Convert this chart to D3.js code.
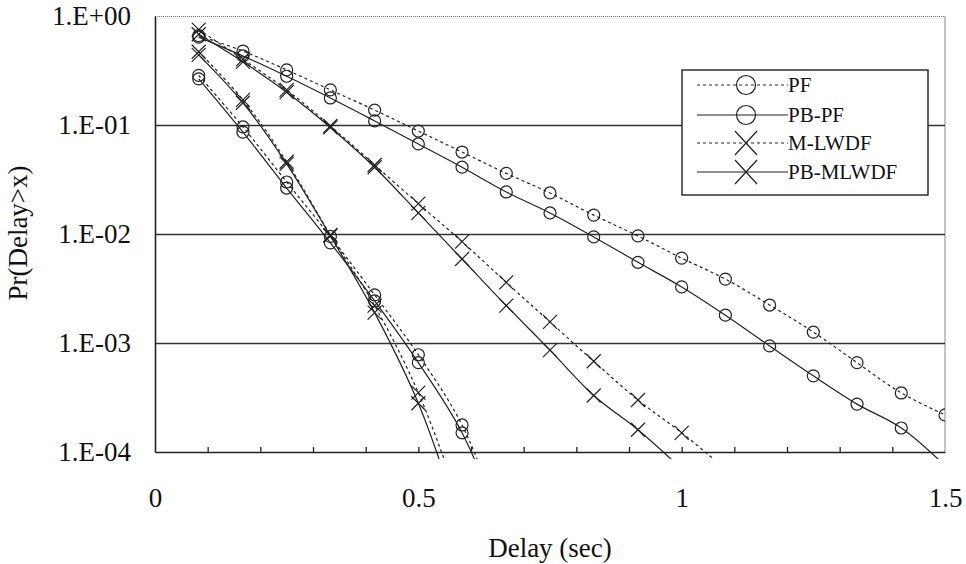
<!DOCTYPE html>
<html>
<head>
<meta charset="utf-8">
<script src="https://cdn.jsdelivr.net/npm/d3@7"></script>
<style>
  body { margin: 0; background: #fff; }
  svg { display: block; font-family: "Liberation Serif", "Times New Roman", serif; }
</style>
</head>
<body>
<div id="chart"></div>
<script>
// delay sample points (sec)
const delays = [0.083, 0.167, 0.25, 0.333, 0.417, 0.5, 0.583, 0.667, 0.75, 0.833, 0.917, 1.0, 1.083, 1.167, 1.25, 1.333, 1.417, 1.5];

// first load case (slower decay)
const pf1 = [0.66, 0.477, 0.32, 0.21, 0.137, 0.088, 0.0565, 0.036, 0.0238, 0.0149, 0.0096, 0.006, 0.00386, 0.00223, 0.00126, 0.00066, 0.000348, 0.000219];
const pbpf1 = [0.64, 0.43, 0.28, 0.177, 0.109, 0.067, 0.041, 0.0243, 0.0156, 0.0094, 0.0055, 0.00327, 0.0018, 0.00094, 0.0005, 0.000275, 0.000166, 0.000075];
const mlwdf1 = [0.75, 0.40, 0.21, 0.098, 0.043, 0.019, 0.0085, 0.0036, 0.00156, 0.00068, 0.0003, 0.00015, 0.00007];
const pbmlwdf1 = [0.68, 0.38, 0.20, 0.095, 0.041, 0.0156, 0.0059, 0.0022, 0.00086, 0.00033, 0.00016, 0.00007];

// second load case (steep decay)
const pf2 = [0.285, 0.096, 0.030, 0.0095, 0.00276, 0.00078, 0.000177, 0.000017];
const pbpf2 = [0.265, 0.086, 0.0264, 0.0083, 0.00243, 0.00066, 0.00015, 0.000016];
const mlwdf2 = [0.47, 0.17, 0.046, 0.0098, 0.0022, 0.00035, 0.00003];
const pbmlwdf2 = [0.44, 0.16, 0.044, 0.0096, 0.0019, 0.00028, 0.00002];

const yTicks = [1, 0.1, 0.01, 0.001, 0.0001];
const yTickLabels = ["1.E+00", "1.E-01", "1.E-02", "1.E-03", "1.E-04"];
const xLabelTicks = [0, 0.5, 1, 1.5];
const xLabels = ["0", "0.5", "1", "1.5"];
const xMinorTicks = [0.1, 0.2, 0.3, 0.4, 0.5, 0.6, 0.7, 0.8, 0.9, 1.0, 1.1, 1.2, 1.3, 1.4];

const legendItems = [
  { label: "PF", dashed: true, marker: "circle" },
  { label: "PB-PF", dashed: false, marker: "circle" },
  { label: "M-LWDF", dashed: true, marker: "cross" },
  { label: "PB-MLWDF", dashed: false, marker: "cross" },
];

const series = [
  { values: pf1, dashed: true, marker: "circle" },
  { values: pbpf1, dashed: false, marker: "circle" },
  { values: mlwdf1, dashed: true, marker: "cross" },
  { values: pbmlwdf1, dashed: false, marker: "cross" },
  { values: pf2, dashed: true, marker: "circle" },
  { values: pbpf2, dashed: false, marker: "circle" },
  { values: mlwdf2, dashed: true, marker: "cross" },
  { values: pbmlwdf2, dashed: false, marker: "cross" },
];

const width = 966, height = 564;
const margin = { top: 16, right: 21, bottom: 112, left: 155 };
const innerW = width - margin.left - margin.right;
const innerH = height - margin.top - margin.bottom;
const ink = "#222";

const svg = d3.select("#chart").append("svg").attr("width", width).attr("height", height);
const g = svg.append("g").attr("transform", `translate(${margin.left},${margin.top})`);

const x = d3.scaleLinear().domain([0, 1.5]).range([0, innerW]);
const y = d3.scaleLog().domain([0.0001, 1]).range([innerH, 0]);

// frame: top dotted, right thin grey
g.append("line").attr("x1", 0).attr("x2", innerW).attr("y1", 0.5).attr("y2", 0.5)
  .attr("stroke", "#777").attr("stroke-width", 1).attr("stroke-dasharray", "1,1");
g.append("line").attr("x1", innerW).attr("x2", innerW).attr("y1", 0).attr("y2", innerH)
  .attr("stroke", "#888").attr("stroke-width", 1);

// horizontal grid at decades
g.append("g")
  .call(d3.axisLeft(y).tickValues(yTicks.slice(1, 4)).tickSize(-innerW).tickFormat(() => ""))
  .call((s) => s.select(".domain").remove())
  .selectAll("line").attr("stroke", "#333").attr("stroke-width", 1.4);

// y labels
g.append("g")
  .call(d3.axisLeft(y).tickValues(yTicks).tickSize(0).tickPadding(24).tickFormat((d, i) => yTickLabels[i]))
  .call((s) => s.select(".domain").attr("stroke", ink).attr("stroke-width", 1.6))
  .selectAll("text").attr("font-size", 27).attr("font-family", "Liberation Serif, serif").attr("fill", "#111");

// x axis with inside minor ticks
g.append("g").attr("transform", `translate(0,${innerH})`)
  .call(d3.axisBottom(x).tickValues(xMinorTicks).tickSizeInner(-5).tickSizeOuter(0).tickFormat(() => ""))
  .call((s) => s.select(".domain").attr("stroke", ink).attr("stroke-width", 1.6))
  .selectAll("line").attr("stroke", ink).attr("stroke-width", 1.3);

g.append("g").attr("transform", `translate(0,${innerH})`)
  .call(d3.axisBottom(x).tickValues(xLabelTicks).tickSize(0).tickPadding(36).tickFormat((d, i) => xLabels[i]))
  .call((s) => s.select(".domain").remove())
  .selectAll("text").attr("font-size", 27).attr("font-family", "Liberation Serif, serif").attr("fill", "#111");

// axis titles
svg.append("text").attr("x", margin.left + innerW / 2).attr("y", 557).attr("text-anchor", "middle")
  .attr("font-size", 27).attr("fill", "#111").text("Delay (sec)");
svg.append("text").attr("transform", "translate(27,233) rotate(-90)").attr("text-anchor", "middle")
  .attr("font-size", 27).attr("fill", "#111").text("Pr(Delay>x)");

// clip lets curves run a few px past the bottom axis, like the original
svg.append("clipPath").attr("id", "plot-clip").append("rect")
  .attr("x", 0).attr("y", 0).attr("width", innerW).attr("height", innerH + 7);

const line = d3.line()
  .x((d) => x(d.x))
  .y((d) => y(d.v))
  .curve(d3.curveCatmullRom.alpha(0.5));

const drawMarker = (sel, type, cx, cy, r, h) => {
  if (type === "circle") {
    sel.append("circle").attr("cx", cx).attr("cy", cy).attr("r", r)
      .attr("fill", "none").attr("stroke", ink).attr("stroke-width", 1.2);
  } else {
    sel.append("path")
      .attr("d", `M${cx - r},${cy - h}L${cx + r},${cy + h}M${cx - r},${cy + h}L${cx + r},${cy - h}`)
      .attr("fill", "none").attr("stroke", ink).attr("stroke-width", 1.2);
  }
};

const plot = g.append("g").attr("clip-path", "url(#plot-clip)");
series.forEach((s) => {
  const pts = s.values.map((v, i) => ({ x: delays[i], v }));
  plot.append("path").attr("d", line(pts))
    .attr("fill", "none").attr("stroke", ink).attr("stroke-width", 1.2)
    .attr("stroke-dasharray", s.dashed ? "3,3" : null);
  const mk = plot.append("g");
  pts.filter((p) => p.v >= 0.0001).forEach((p) => {
    drawMarker(mk, s.marker, x(p.x), y(p.v), s.marker === "circle" ? 6 : 7, 7);
  });
});

// legend
const legend = svg.append("g").attr("transform", "translate(682,70)");
legend.append("rect").attr("width", 246).attr("height", 125)
  .attr("fill", "#fff").attr("stroke", ink).attr("stroke-width", 1.4);
const rowY = [15, 45, 73, 102];
legendItems.forEach((item, i) => {
  const row = legend.append("g").attr("transform", `translate(0,${rowY[i]})`);
  row.append("line").attr("x1", 15).attr("x2", 106).attr("y1", 0).attr("y2", 0)
    .attr("stroke", ink).attr("stroke-width", 1.2).attr("stroke-dasharray", item.dashed ? "3,3" : null);
  drawMarker(row, item.marker, 64, 0, item.marker === "circle" ? 9.5 : 11, 12);
  row.append("text").attr("x", 106).attr("y", 0).attr("dy", "0.35em")
    .attr("font-size", 21).attr("fill", "#111").text(item.label);
});
</script>
</body>
</html>
